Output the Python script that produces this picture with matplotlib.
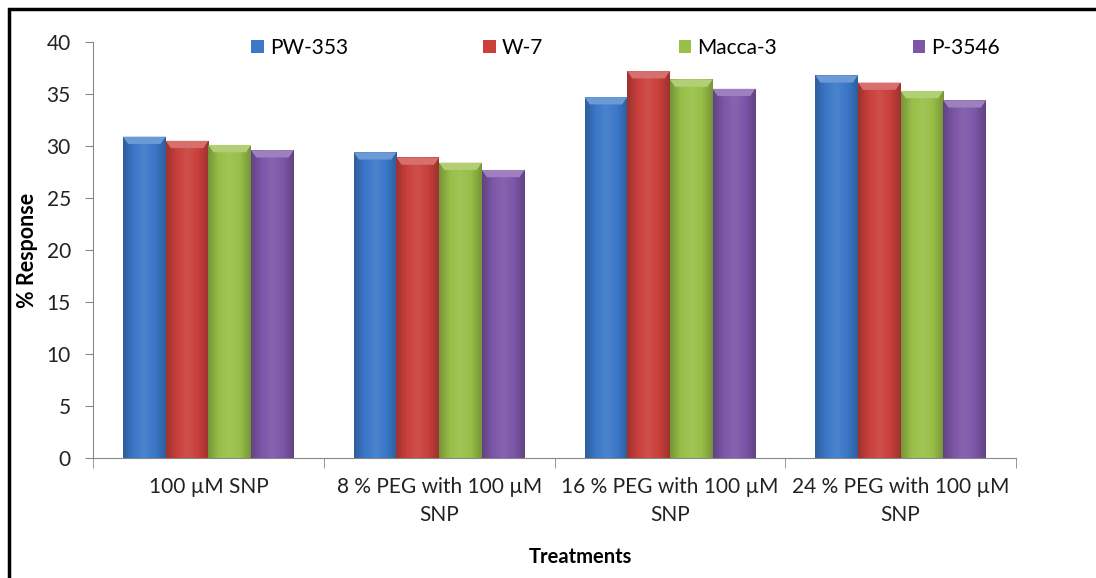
import numpy as np
import matplotlib.pyplot as plt
from matplotlib.colors import LinearSegmentedColormap, to_rgb
from matplotlib.patches import Polygon, Rectangle

plt.rcParams['font.family'] = ['Lato', 'DejaVu Sans']

treatments = ['100 µM SNP', '8 % PEG with 100 µM\nSNP',
              '16 % PEG with 100 µM\nSNP', '24 % PEG with 100 µM\nSNP']
pw353 = [30.9, 29.4, 34.7, 36.8]
w7 = [30.5, 28.9, 37.2, 36.1]
macca3 = [30.1, 28.4, 36.4, 35.3]
p3546 = [29.6, 27.7, 35.5, 34.4]

series = [('PW-353', pw353, '#3b78c8'),
          ('W-7', w7, '#c9403c'),
          ('Macca-3', macca3, '#98bf48'),
          ('P-3546', p3546, '#7d56a8')]


def shade(c, f):
    r, g, b = to_rgb(c)
    if f > 1:
        return tuple(x + (1 - x) * (f - 1) for x in (r, g, b))
    return tuple(x * f for x in (r, g, b))


fig = plt.figure(figsize=(10.96, 5.78), dpi=100)
ax = fig.add_axes([0.0849, 0.2076, 0.8421, 0.7197])

x = np.arange(len(treatments))
w = 0.185
for i, (name, vals, col) in enumerate(series):
    bars = ax.bar(x + (i - 1.5) * w, vals, w, color=col, label=name, zorder=2)
    cmap = LinearSegmentedColormap.from_list(
        name, [shade(col, 0.78), col, shade(col, 1.08), col, shade(col, 0.78)])
    for b in bars:
        x0, y0 = b.get_x(), b.get_y()
        bw, bh = b.get_width(), b.get_height()
        im = ax.imshow(np.linspace(0, 1, 64).reshape(1, -1), cmap=cmap,
                       extent=[x0, x0 + bw, y0, y0 + bh], aspect='auto',
                       zorder=3)
        im.set_clip_path(b)
        # bevelled top face
        cap = 0.7
        inset = bw * 0.12
        ax.add_patch(Polygon([[x0, y0 + bh], [x0 + bw, y0 + bh],
                              [x0 + bw - inset, y0 + bh - cap],
                              [x0 + inset, y0 + bh - cap]],
                             closed=True, color=shade(col, 1.25), lw=0,
                             zorder=4))

ax.set_xlim(-0.5, 3.5)
ax.set_ylim(0, 40)
ax.set_yticks(range(0, 41, 5))
ax.set_xticks(x)
ax.set_xticklabels(treatments, fontsize=15, color='#222222', linespacing=1.45)
ax.set_xticks(np.arange(-0.5, 4, 1), minor=True)
ax.tick_params(axis='x', which='major', length=0, pad=14)
ax.tick_params(axis='x', which='minor', length=7, color='#888888')
ax.tick_params(axis='y', labelsize=15, length=6, color='#888888',
               labelcolor='#222222', pad=10)
for s in ['top', 'right']:
    ax.spines[s].set_visible(False)
for s in ['left', 'bottom']:
    ax.spines[s].set_color('#888888')

ax.set_ylabel('% Response', fontsize=15.5, fontweight='bold', labelpad=6)
ax.set_xlabel('Treatments', fontsize=14.5, fontweight='bold')
ax.xaxis.set_label_coords(0.528, -0.215)

ax.legend(loc='upper center', bbox_to_anchor=(0.577, 1.055), ncol=4,
          frameon=False, fontsize=15, handlelength=0.6, handleheight=0.6,
          handletextpad=0.3, columnspacing=6.5)

# outer chart border
fig.add_artist(Rectangle((9 / 1096, -0.1), 1.2, 1 - 9 / 578 + 0.1,
                         transform=fig.transFigure, fill=False,
                         ec='black', lw=2.5))

fig.savefig('out.png', dpi=100)
